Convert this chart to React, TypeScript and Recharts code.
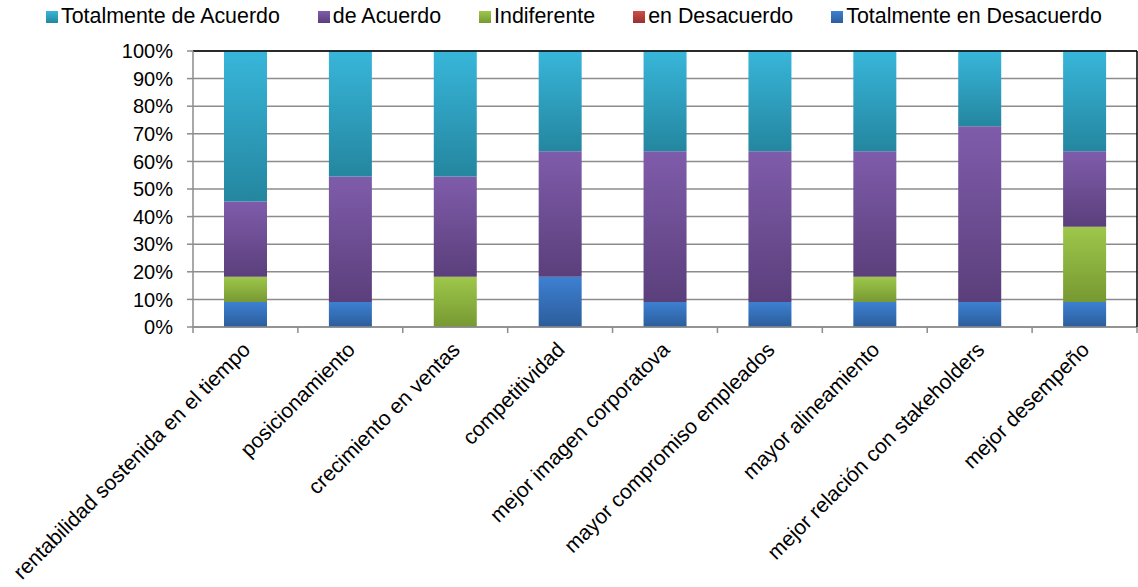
import { BarChart, Bar, XAxis, YAxis, CartesianGrid, ReferenceLine } from "recharts";

// respuestas (n = 11) por afirmación
const categories = [
  "rentabilidad sostenida en el tiempo",
  "posicionamiento",
  "crecimiento en ventas",
  "competitividad",
  "mejor imagen corporatova",
  "mayor compromiso empleados",
  "mayor alineamiento",
  "mejor relación con stakeholders",
  "mejor desempeño",
];
const totalmenteDesacuerdo = [1, 1, 0, 2, 1, 1, 1, 1, 1];
const enDesacuerdo = [0, 0, 0, 0, 0, 0, 0, 0, 0];
const indiferente = [1, 0, 2, 0, 0, 0, 1, 0, 3];
const deAcuerdo = [3, 5, 4, 5, 6, 6, 5, 7, 3];
const totalmenteAcuerdo = [6, 5, 5, 4, 4, 4, 4, 3, 4];
const yTicks = [0, 0.1, 0.2, 0.3, 0.4, 0.5, 0.6, 0.7, 0.8, 0.9, 1];

const data = categories.map((name, i) => ({
  name,
  td: totalmenteDesacuerdo[i],
  ed: enDesacuerdo[i],
  ind: indiferente[i],
  da: deAcuerdo[i],
  ta: totalmenteAcuerdo[i],
}));

// legend order (top row), with gradient ids
const legendItems = [
  { label: "Totalmente de Acuerdo", grad: "gTA" },
  { label: "de Acuerdo", grad: "gDA" },
  { label: "Indiferente", grad: "gIND" },
  { label: "en Desacuerdo", grad: "gED" },
  { label: "Totalmente en Desacuerdo", grad: "gTD" },
];

const gradients: Record<string, [string, string]> = {
  gTA: ["#38B6DA", "#24869F"],
  gDA: ["#7F5CAB", "#5B3F7B"],
  gIND: ["#9EC74A", "#769932"],
  gED: ["#CE4E4A", "#9A302D"],
  gTD: ["#3D80D2", "#2C5D9B"],
};

const FONT = "'Liberation Sans', Arial, sans-serif";
const W = 1138;
const H = 587;
const LEFT = 193;
const RIGHT = 1137;
const TOP = 51;
const BOTTOM = 327;
const BAND = (RIGHT - LEFT) / categories.length;

function XTick(props: any) {
  const { x, payload, index } = props;
  const half = BAND / 2;
  return (
    <g>
      <line x1={x - half} y1={BOTTOM} x2={x - half} y2={BOTTOM + 6} stroke="#8C8C8C" strokeWidth={1.5} />
      {index === categories.length - 1 && (
        <line x1={x + half} y1={BOTTOM} x2={x + half} y2={BOTTOM + 6} stroke="#8C8C8C" strokeWidth={1.5} />
      )}
      <text
        x={0}
        y={0}
        transform={`translate(${x + 6},${BOTTOM + 24}) rotate(-45)`}
        textAnchor="end"
        fontSize={21}
        fontFamily={FONT}
        fill="#000"
      >
        {payload.value}
      </text>
    </g>
  );
}

export default function App() {
  return (
    <div style={{ position: "absolute", left: 0, top: 0, width: W, height: H, background: "#fff", fontFamily: FONT }}>
      <div style={{ position: "absolute", left: 46, top: 4, display: "flex", gap: 38, whiteSpace: "nowrap" }}>
        {legendItems.map((it) => (
          <div key={it.label} style={{ display: "flex", alignItems: "center", fontSize: 21.4, color: "#000" }}>
            <span
              style={{
                width: 12,
                height: 12,
                marginRight: 3,
                background: `linear-gradient(${gradients[it.grad][0]}, ${gradients[it.grad][1]})`,
              }}
            />
            {it.label}
          </div>
        ))}
      </div>
      <BarChart
        width={W}
        height={H}
        data={data}
        stackOffset="expand"
        barSize={43}
        margin={{ top: TOP, right: 0, bottom: 0, left: 0 }}
      >
        <defs>
          {Object.entries(gradients).map(([id, [c1, c2]]) => (
            <linearGradient key={id} id={id} x1="0" y1="0" x2="0" y2="1">
              <stop offset="0%" stopColor={c1} />
              <stop offset="100%" stopColor={c2} />
            </linearGradient>
          ))}
        </defs>
        <CartesianGrid vertical={false} stroke="#8C8C8C" strokeWidth={1.5} />
        <XAxis
          dataKey="name"
          height={H - BOTTOM}
          interval={0}
          tickLine={false}
          axisLine={{ stroke: "#8C8C8C", strokeWidth: 1.5 }}
          tick={<XTick />}
        />
        <YAxis
          width={LEFT}
          domain={[0, 1]}
          ticks={yTicks}
          interval={0}
          tickSize={6}
          tickMargin={14}
          tickFormatter={(v: number) => `${Math.round(v * 100)}%`}
          tick={{ fontSize: 20, fontFamily: FONT, fill: "#000" }}
          tickLine={{ stroke: "#8C8C8C", strokeWidth: 1.5 }}
          axisLine={{ stroke: "#8C8C8C", strokeWidth: 1.5 }}
        />
        <YAxis
          yAxisId="frame"
          orientation="right"
          width={1}
          domain={[0, 1]}
          tick={false}
          tickLine={false}
          axisLine={{ stroke: "#000", strokeWidth: 1.5 }}
        />
        <ReferenceLine y={1} stroke="#000" strokeWidth={1.5} />
        <Bar dataKey="td" stackId="a" fill="url(#gTD)" isAnimationActive={false} />
        <Bar dataKey="ed" stackId="a" fill="url(#gED)" isAnimationActive={false} />
        <Bar dataKey="ind" stackId="a" fill="url(#gIND)" isAnimationActive={false} />
        <Bar dataKey="da" stackId="a" fill="url(#gDA)" isAnimationActive={false} />
        <Bar dataKey="ta" stackId="a" fill="url(#gTA)" isAnimationActive={false} />
      </BarChart>
    </div>
  );
}
